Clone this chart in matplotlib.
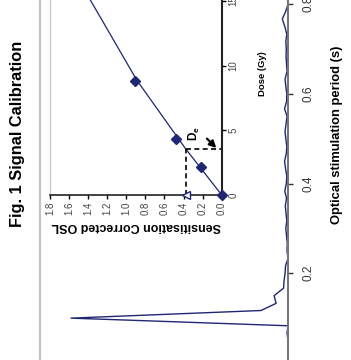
import matplotlib
matplotlib.use('Agg')
import matplotlib.pyplot as plt

plt.rcParams['font.family'] = 'Liberation Sans'
plt.rcParams['mathtext.fontset'] = 'custom'
plt.rcParams['mathtext.bf'] = 'Liberation Sans:bold'

# OSL decay curve (figure is shown rotated 90 deg, so time runs up the page)
time_s = [0.000, 0.017, 0.033, 0.050, 0.067, 0.083, 0.100, 0.117, 0.133, 0.150,
          0.167, 0.183, 0.200, 0.217, 0.233, 0.250, 0.267, 0.283, 0.300, 0.317,
          0.333, 0.350, 0.367, 0.383, 0.400, 0.417, 0.433, 0.450, 0.467, 0.483,
          0.500, 0.517, 0.533, 0.550, 0.567, 0.583, 0.600, 0.617, 0.633, 0.650,
          0.667, 0.683, 0.700, 0.717, 0.733, 0.750, 0.767, 0.783, 0.800, 0.817]
signal = [0.0, 0.0, 0.0, 0.0, 0.4, 0.0, 87.5, 10.9, 4.8, 5.6,
          1.8, 1.6, 1.2, 1.0, 0.0, 0.4, 0.3, 0.6, 0.9, 0.5,
          0.8, 1.1, 0.6, 1.3, 0.7, 0.5, 1.0, 1.4, 0.7, 0.5,
          0.9, 1.2, 0.8, 0.4, 1.4, 0.6, 0.5, 0.9, 1.2, 0.4,
          0.6, 0.8, 0.7, 0.9, 0.5, 1.3, 2.3, 1.0, 0.0, 0.3]
time_ticks = [0, 0.2, 0.4, 0.6, 0.8]

# inset: dose response
dose_pts = [0, 2.14, 4.33, 8.84]
osl_pts = [0, 0.22, 0.479, 0.909]
fit_dose = [0, 3.53, 8.89, 12.89, 16.0]
fit_osl = [0, 0.374, 0.891, 1.205, 1.45]
de_dose = 3.53
natural_osl = 0.374
osl_ticks = [0.0, 0.2, 0.4, 0.6, 0.8, 1.0, 1.2, 1.4, 1.6, 1.8]
dose_ticks = [0, 5, 10, 15]

navy = '#1f2672'
fig = plt.figure(figsize=(3.51, 3.60), dpi=100)

# main decay plot
ax = fig.add_axes([0.114, -0.0083, 0.7066, 1.0216])
ax.plot(signal, time_s, color=navy, lw=1.0)
ax.set_xlim(100, 0)
ax.set_ylim(0, 0.82)
ax.set_xticks([])
ax.yaxis.tick_right()
ax.set_yticks(time_ticks)
ax.set_yticklabels(['0', '0.2', '0.4', '0.6', '0.8'], rotation=90, va='center',
                   fontsize=8.5, color='#333333')
ax.tick_params(axis='y', direction='out', length=3.5, width=1, color='#333333', pad=7)
ax.spines['top'].set_visible(False)
ax.spines['bottom'].set_visible(False)
ax.spines['left'].set_color('#c4c4c4')
ax.spines['left'].set_linewidth(1.6)
ax.spines['right'].set_color('#777777')
ax.spines['right'].set_linewidth(1.5)

fig.text(0.050, 0.629, 'Fig. 1 Signal Calibration', rotation=90, fontsize=11.8,
         fontweight='bold', ha='center', va='center')
fig.text(0.960, 0.625, 'Optical stimulation period (s)', rotation=90, fontsize=9.4,
         fontweight='bold', ha='center', va='center')

# inset calibration plot
ins = fig.add_axes([0.1425, 0.4583, 0.4892, 0.7183])
ins.plot(fit_osl, fit_dose, color=navy, lw=0.9)
ins.plot(osl_pts, dose_pts, 'D', color=navy, ms=5, clip_on=False, zorder=5)
ins.plot([natural_osl, natural_osl], [0, de_dose], '--', color='black', lw=1.2, dashes=(3, 2))
ins.plot([natural_osl, 0], [de_dose, de_dose], '--', color='black', lw=1.2, dashes=(3, 2))
ins.plot([natural_osl], [0], '<', mfc='white', mec=navy, ms=5.5, clip_on=False, zorder=6)
ins.annotate('', xy=(0.036, 3.48), xytext=(0.175, 4.51),
             arrowprops=dict(arrowstyle='-|>', color='black', lw=1.6, mutation_scale=10))
ins.text(0.285, 4.75, r'$\mathbf{D_e}$', rotation=90, fontsize=8.5, ha='center', va='center')
ins.set_xlim(1.8, 0)
ins.set_ylim(0, 20)
ins.set_xticks(osl_ticks)
ins.set_xticklabels(['%.1f' % v for v in osl_ticks], rotation=90, fontsize=7, color='#444444')
ins.yaxis.tick_right()
ins.set_yticks(dose_ticks)
ins.set_yticklabels([str(v) for v in dose_ticks], rotation=90, va='center',
                    fontsize=7, color='#444444')
ins.tick_params(direction='out', length=3, width=1, pad=2)
ins.set_xlabel('Sensitisation Corrected OSL', rotation=180, fontsize=9,
               fontweight='bold', labelpad=3)
ins.set_ylabel('Dose (Gy)', rotation=90, fontsize=6.8, fontweight='bold')
ins.yaxis.set_label_position('right')
ins.yaxis.set_label_coords(1.21, 9.4 / 20)
ins.spines['top'].set_visible(False)
ins.spines['left'].set_color('#c4c4c4')
ins.spines['bottom'].set_color('#222222')
ins.spines['bottom'].set_linewidth(1.2)
ins.spines['right'].set_color('#222222')
ins.spines['right'].set_linewidth(1.5)
ins.patch.set_alpha(0)

fig.savefig('out.png', dpi=100)
